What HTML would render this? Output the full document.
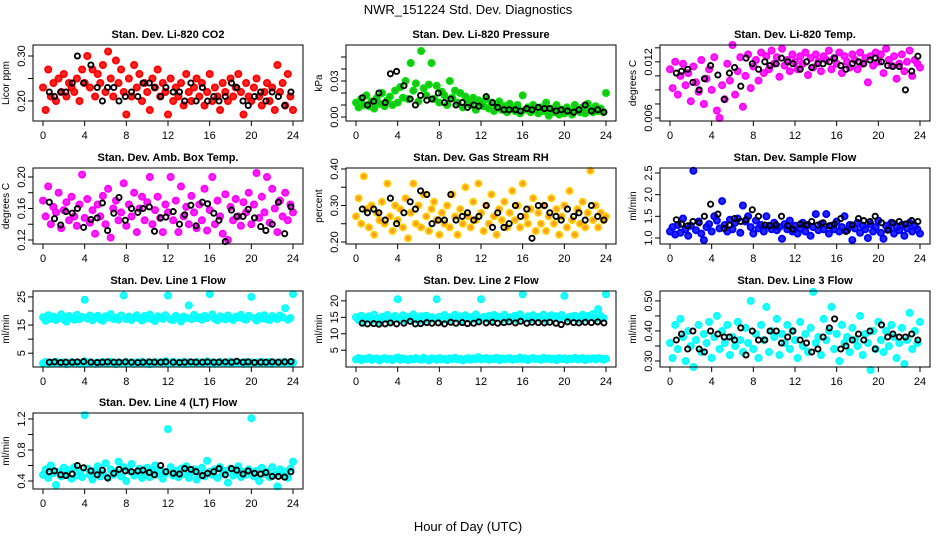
<!DOCTYPE html>
<html><head><meta charset="utf-8">
<style>
html,body{margin:0;padding:0;background:#fff;}
svg{display:block;font-family:"Liberation Sans",Arial,sans-serif;}
</style></head>
<body>
<svg id="chart" width="936" height="540" viewBox="0 0 936 540" xmlns="http://www.w3.org/2000/svg">
<rect x="0" y="0" width="936" height="540" fill="#fff"/>
<text x="468" y="14" text-anchor="middle" font-size="13">NWR_151224  Std. Dev. Diagnostics</text>
<text x="468" y="531" text-anchor="middle" font-size="13">Hour of Day (UTC)</text>
</svg>
<script>
const hours = [0,0.25,0.5,0.75,1,1.25,1.5,1.75,2,2.25,2.5,2.75,3,3.25,3.5,3.75,4,4.25,4.5,4.75,5,5.25,5.5,5.75,6,6.25,6.5,6.75,7,7.25,7.5,7.75,8,8.25,8.5,8.75,9,9.25,9.5,9.75,10,10.25,10.5,10.75,11,11.25,11.5,11.75,12,12.25,12.5,12.75,13,13.25,13.5,13.75,14,14.25,14.5,14.75,15,15.25,15.5,15.75,16,16.25,16.5,16.75,17,17.25,17.5,17.75,18,18.25,18.5,18.75,19,19.25,19.5,19.75,20,20.25,20.5,20.75,21,21.25,21.5,21.75,22,22.25,22.5,22.75,23,23.25,23.5,23.75,24];
const blackHours = [0.6,1.1,1.7,2.2,2.8,3.3,3.9,4.6,5.2,5.7,6.2,6.8,7.3,7.9,8.5,9.1,9.6,10.2,10.7,11.3,11.8,12.5,13.1,13.6,14.2,14.7,15.3,15.8,16.4,16.9,17.5,18.1,18.6,19.2,19.7,20.3,20.9,21.4,22.0,22.6,23.2,23.8];
const xTicks = [0,4,8,12,16,20,24];

const co2Values = [0.23,0.18,0.27,0.21,0.24,0.20,0.25,0.22,0.26,0.21,0.24,0.23,0.22,0.25,0.20,0.27,0.24,0.30,0.23,0.27,0.21,0.26,0.24,0.28,0.22,0.31,0.25,0.21,0.29,0.24,0.27,0.22,0.17,0.25,0.21,0.28,0.23,0.26,0.20,0.24,0.22,0.18,0.25,0.23,0.27,0.21,0.24,0.22,0.17,0.25,0.20,0.23,0.21,0.24,0.19,0.26,0.22,0.20,0.23,0.25,0.21,0.24,0.19,0.22,0.26,0.20,0.23,0.21,0.18,0.24,0.22,0.20,0.25,0.21,0.23,0.26,0.22,0.17,0.24,0.21,0.20,0.23,0.25,0.21,0.19,0.22,0.24,0.20,0.23,0.18,0.28,0.22,0.24,0.19,0.26,0.21,0.18];
const co2Black = [0.22,0.21,0.22,0.22,0.24,0.30,0.24,0.28,0.23,0.20,0.23,0.23,0.20,0.21,0.22,0.21,0.24,0.24,0.23,0.21,0.23,0.22,0.22,0.20,0.24,0.20,0.23,0.20,0.21,0.20,0.21,0.24,0.23,0.20,0.19,0.21,0.22,0.20,0.22,0.21,0.19,0.22];

const pressureValues = [0.012,0.008,0.015,0.010,0.018,0.009,0.013,0.007,0.016,0.011,0.020,0.009,0.014,0.017,0.010,0.022,0.012,0.025,0.016,0.030,0.015,0.045,0.022,0.028,0.013,0.055,0.024,0.018,0.027,0.045,0.015,0.026,0.012,0.021,0.018,0.010,0.030,0.016,0.022,0.012,0.020,0.008,0.017,0.013,0.010,0.016,0.006,0.014,0.011,0.009,0.015,0.007,0.012,0.005,0.010,0.013,0.006,0.009,0.004,0.011,0.007,0.005,0.010,0.003,0.018,0.006,0.008,0.004,0.010,0.006,0.003,0.008,0.005,0.012,0.001,0.007,0.004,0.010,0.002,0.006,0.003,0.008,0.005,0.002,0.010,0.006,0.004,0.008,0.003,0.011,0.006,0.004,0.009,0.005,0.007,0.004,0.020];
const pressureBlack = [0.016,0.010,0.013,0.020,0.012,0.036,0.038,0.026,0.015,0.010,0.018,0.014,0.015,0.020,0.012,0.015,0.010,0.012,0.008,0.010,0.009,0.017,0.012,0.008,0.006,0.006,0.006,0.005,0.007,0.006,0.008,0.007,0.007,0.005,0.006,0.005,0.004,0.006,0.010,0.005,0.006,0.004];

const tempValues = [0.0112,0.0092,0.0120,0.0085,0.0105,0.0118,0.0095,0.0108,0.0078,0.0115,0.0098,0.0088,0.0122,0.0075,0.0102,0.0112,0.0090,0.0125,0.0068,0.0060,0.0095,0.0080,0.0118,0.0100,0.0138,0.0085,0.0110,0.0125,0.0072,0.0105,0.0128,0.0092,0.0115,0.0122,0.0100,0.0130,0.0108,0.0126,0.0112,0.0132,0.0118,0.0125,0.0104,0.0134,0.0116,0.0122,0.0110,0.0128,0.0120,0.0112,0.0126,0.0118,0.0130,0.0106,0.0124,0.0114,0.0128,0.0120,0.0110,0.0126,0.0122,0.0132,0.0112,0.0124,0.0118,0.0130,0.0108,0.0126,0.0120,0.0114,0.0128,0.0122,0.0112,0.0130,0.0118,0.0124,0.0098,0.0126,0.0116,0.0130,0.0120,0.0128,0.0108,0.0134,0.0122,0.0116,0.0126,0.0102,0.0118,0.0128,0.0110,0.0120,0.0132,0.0105,0.0122,0.0118,0.0114];
const tempBlack = [0.0108,0.0110,0.0112,0.0098,0.0090,0.0102,0.0116,0.0106,0.0080,0.0108,0.0114,0.0094,0.0124,0.0118,0.0112,0.0120,0.0116,0.0118,0.0124,0.0120,0.0118,0.0112,0.0120,0.0114,0.0118,0.0118,0.0120,0.0124,0.0116,0.0112,0.0118,0.0120,0.0118,0.0122,0.0124,0.0120,0.0116,0.0115,0.0115,0.0090,0.0110,0.0126];

const ambValues = [0.170,0.150,0.188,0.140,0.162,0.155,0.180,0.135,0.158,0.168,0.145,0.175,0.150,0.138,0.165,0.203,0.148,0.172,0.142,0.158,0.128,0.165,0.150,0.176,0.140,0.185,0.123,0.160,0.170,0.145,0.155,0.192,0.138,0.165,0.150,0.180,0.130,0.160,0.175,0.145,0.168,0.200,0.140,0.158,0.175,0.148,0.130,0.165,0.155,0.200,0.145,0.170,0.130,0.188,0.150,0.162,0.140,0.176,0.155,0.135,0.165,0.145,0.185,0.132,0.158,0.200,0.140,0.170,0.150,0.128,0.178,0.120,0.162,0.145,0.172,0.150,0.138,0.168,0.155,0.180,0.140,0.165,0.205,0.148,0.175,0.155,0.200,0.142,0.185,0.160,0.130,0.170,0.150,0.180,0.145,0.165,0.155];
const ambBlack = [0.168,0.147,0.139,0.156,0.154,0.160,0.136,0.146,0.148,0.167,0.132,0.154,0.174,0.145,0.160,0.155,0.160,0.162,0.131,0.148,0.149,0.156,0.140,0.152,0.164,0.138,0.168,0.166,0.154,0.145,0.118,0.158,0.150,0.150,0.159,0.148,0.137,0.132,0.140,0.168,0.128,0.162];

const rhValues = [0.27,0.32,0.25,0.38,0.29,0.24,0.30,0.22,0.28,0.26,0.31,0.25,0.36,0.27,0.23,0.30,0.26,0.29,0.24,0.32,0.21,0.28,0.36,0.25,0.30,0.24,0.33,0.27,0.23,0.29,0.31,0.26,0.22,0.28,0.25,0.30,0.24,0.33,0.27,0.22,0.29,0.25,0.35,0.27,0.24,0.31,0.26,0.36,0.28,0.23,0.30,0.25,0.33,0.27,0.22,0.29,0.26,0.31,0.24,0.28,0.34,0.26,0.30,0.24,0.36,0.27,0.25,0.29,0.32,0.23,0.28,0.25,0.30,0.23,0.27,0.32,0.25,0.29,0.22,0.27,0.30,0.24,0.34,0.26,0.22,0.29,0.25,0.31,0.24,0.28,0.395,0.26,0.30,0.24,0.28,0.26,0.27];
const rhBlack = [0.29,0.28,0.29,0.28,0.26,0.32,0.25,0.28,0.31,0.29,0.34,0.33,0.25,0.26,0.26,0.33,0.26,0.27,0.28,0.26,0.27,0.30,0.24,0.28,0.24,0.25,0.30,0.27,0.29,0.21,0.30,0.30,0.28,0.27,0.26,0.29,0.27,0.28,0.26,0.30,0.27,0.26];

const sampleValues = [1.15,1.25,1.08,1.30,1.12,1.45,1.20,1.05,1.28,2.55,1.18,1.38,1.10,0.95,1.25,1.32,1.15,1.50,1.40,1.22,1.85,1.30,1.15,1.42,1.20,1.35,1.45,1.12,1.75,1.38,1.50,1.25,1.10,1.40,1.22,1.30,1.15,1.50,1.28,1.20,1.35,1.18,1.25,0.98,1.32,1.20,1.40,1.15,1.28,1.10,1.22,1.35,1.15,1.30,1.05,1.25,1.55,1.18,1.32,1.20,1.55,1.10,1.28,1.20,1.38,1.15,1.25,1.50,1.18,1.30,0.95,1.22,1.35,1.12,1.28,1.20,1.00,1.32,1.15,1.25,1.40,1.12,0.98,1.28,1.20,1.35,1.10,1.25,1.18,1.30,1.05,1.22,1.35,1.15,1.28,1.20,1.10];
const sampleBlack = [1.42,1.32,1.28,1.38,1.35,1.50,1.78,1.55,1.22,1.30,1.45,1.38,1.42,1.65,1.50,1.30,1.28,1.30,1.50,1.28,1.20,1.32,1.30,1.38,1.30,1.35,1.28,1.32,1.45,1.15,1.30,1.45,1.40,1.38,1.50,1.35,1.18,1.35,1.38,1.32,1.40,1.38];

const line1Upper = [17.8,16.5,18.5,17.2,18.0,16.8,17.5,18.8,17.0,16.2,18.2,17.4,16.9,18.6,17.1,17.9,24.0,17.3,18.4,16.7,17.6,18.3,17.0,16.5,18.1,17.7,18.9,17.2,17.5,16.9,18.4,25.5,17.1,18.0,16.8,17.6,18.5,17.3,16.6,18.2,17.4,18.7,17.0,16.4,18.1,17.8,17.2,18.5,25.5,17.0,16.8,18.3,17.5,16.3,18.0,17.6,22.0,17.1,18.6,17.4,17.8,16.9,18.2,17.5,26.0,18.8,17.2,16.7,18.1,17.6,17.0,18.4,17.3,16.8,18.0,17.7,18.6,17.2,16.9,18.3,25.0,17.5,16.6,18.1,17.3,18.5,17.0,16.8,18.2,17.6,17.1,18.4,17.8,21.0,16.9,17.5,26.0];
const line1Lower = [1.4,1.9,1.2,1.7,1.5,2.0,1.3,1.6,1.8,1.1,1.5,1.9,1.4,1.7,1.2,1.6,2.1,1.3,1.8,1.5,1.2,1.7,1.4,1.9,1.6,1.3,2.0,1.5,1.1,1.8,1.6,1.3,1.9,1.4,1.7,1.2,1.8,1.5,2.0,1.4,1.7,1.1,1.6,1.9,1.3,1.8,1.5,2.2,1.4,1.6,1.9,1.3,1.7,1.5,2.0,1.2,1.8,1.4,1.6,1.9,1.3,1.7,1.5,2.1,1.4,1.8,1.2,1.6,1.9,1.5,1.7,1.3,2.0,1.5,1.8,1.4,1.6,1.2,1.9,1.5,1.8,1.3,1.7,1.5,2.0,1.4,1.6,1.9,1.2,1.7,1.5,1.8,1.4,1.9,1.6,1.3,1.7];
const line1Black = [1.8,1.9,1.7,1.8,1.8,1.9,2.0,1.8,1.7,1.8,1.9,1.8,1.8,1.9,1.8,1.7,1.8,1.9,1.8,1.8,1.9,1.8,1.7,1.8,1.9,1.8,1.8,1.9,1.8,1.8,1.9,1.8,2.1,1.8,1.9,1.7,1.8,1.8,1.9,1.8,1.9,2.0];

const line2Upper = [15.0,14.2,15.5,13.8,14.8,15.3,14.0,15.8,14.5,13.6,15.2,14.6,15.7,14.1,14.9,15.4,20.5,14.3,15.6,14.0,15.1,14.7,15.9,14.4,13.9,15.3,14.8,15.5,14.2,15.0,14.6,20.5,15.2,14.0,15.7,14.5,15.0,14.3,15.8,14.7,15.3,14.1,15.6,14.8,15.0,14.4,15.9,14.2,20.5,15.1,14.6,15.4,14.0,15.7,14.9,15.2,14.3,15.8,14.5,15.0,14.8,15.5,14.2,15.9,22.0,14.7,15.3,14.4,15.6,14.9,15.1,14.5,15.8,14.2,15.0,15.6,14.8,15.3,14.4,15.7,21.5,14.6,15.2,14.9,15.5,14.3,15.1,15.8,14.7,15.4,15.0,16.0,14.6,17.5,15.3,14.8,22.0];
const line2Lower = [2.2,2.6,2.0,2.4,2.3,2.7,2.1,2.4,2.5,1.9,2.3,2.6,2.2,2.4,2.0,2.5,2.8,2.1,2.5,2.3,2.0,2.4,2.2,2.6,2.3,2.1,2.7,2.3,1.9,2.5,2.4,2.1,2.6,2.2,2.4,2.0,2.5,2.3,2.7,2.2,2.4,1.9,2.3,2.6,2.1,2.5,2.3,2.9,2.2,2.4,2.6,2.1,2.4,2.3,2.7,2.0,2.5,2.2,2.4,2.6,2.1,2.4,2.3,2.8,2.2,2.5,2.0,2.4,2.6,2.3,2.4,2.1,2.7,2.3,2.5,2.2,2.4,2.0,2.6,2.3,2.5,2.1,2.4,2.3,2.7,2.2,2.4,2.6,2.0,2.4,2.3,2.5,2.2,2.6,2.4,2.1,2.4];
const line2Black = [13.2,13.0,13.1,12.9,13.0,13.3,13.0,13.2,13.8,13.0,13.1,13.4,13.2,13.3,13.0,13.5,13.2,13.4,13.1,13.2,13.6,13.3,13.5,13.2,13.4,13.6,13.3,13.8,13.2,13.5,13.4,13.3,13.5,13.2,12.8,13.6,13.4,13.3,13.5,13.4,13.6,13.3];

const line3Values = [0.36,0.31,0.42,0.34,0.44,0.38,0.30,0.40,0.35,0.28,0.37,0.42,0.33,0.39,0.36,0.43,0.31,0.38,0.45,0.34,0.40,0.36,0.42,0.32,0.38,0.35,0.43,0.37,0.33,0.41,0.36,0.50,0.34,0.39,0.31,0.42,0.37,0.48,0.33,0.40,0.38,0.44,0.32,0.39,0.36,0.42,0.34,0.40,0.37,0.31,0.43,0.35,0.39,0.33,0.41,0.53,0.36,0.38,0.32,0.44,0.37,0.40,0.48,0.34,0.39,0.30,0.42,0.36,0.38,0.33,0.41,0.37,0.35,0.45,0.32,0.39,0.36,0.27,0.40,0.34,0.43,0.37,0.33,0.40,0.35,0.42,0.38,0.31,0.36,0.41,0.29,0.37,0.46,0.34,0.40,0.36,0.43];
const line3Black = [0.37,0.39,0.34,0.40,0.34,0.33,0.40,0.39,0.38,0.38,0.37,0.41,0.32,0.40,0.37,0.37,0.40,0.40,0.36,0.38,0.40,0.37,0.36,0.33,0.34,0.38,0.41,0.44,0.34,0.35,0.37,0.39,0.37,0.40,0.34,0.42,0.38,0.39,0.38,0.38,0.39,0.37];

const line4Values = [0.48,0.55,0.44,0.60,0.50,0.35,0.52,0.46,0.57,0.49,0.54,0.43,0.58,0.47,0.52,0.45,1.25,0.56,0.48,0.42,0.53,0.59,0.46,0.50,0.63,0.44,0.55,0.48,0.52,0.65,0.46,0.58,0.40,0.53,0.62,0.47,0.51,0.56,0.44,0.49,0.57,0.45,0.52,0.60,0.48,0.54,0.43,0.50,1.07,0.58,0.47,0.53,0.45,0.56,0.49,0.59,0.44,0.51,0.55,0.42,0.50,0.57,0.46,0.66,0.52,0.48,0.55,0.44,0.58,0.49,0.53,0.38,0.56,0.47,0.51,0.59,0.45,0.52,0.48,0.55,1.21,0.46,0.53,0.40,0.57,0.49,0.52,0.45,0.58,0.48,0.33,0.55,0.47,0.52,0.44,0.56,0.65];
const line4Black = [0.52,0.53,0.48,0.47,0.49,0.60,0.57,0.53,0.48,0.54,0.44,0.50,0.55,0.53,0.52,0.53,0.54,0.51,0.48,0.60,0.52,0.50,0.49,0.56,0.55,0.52,0.47,0.50,0.52,0.56,0.48,0.56,0.54,0.49,0.53,0.50,0.49,0.51,0.46,0.46,0.45,0.52];

const co2Ticks = [0.20,0.25,0.30], co2Labels = ["0.20","","0.30"];
const pressureTicks = [0,0.01,0.02,0.03,0.04,0.05], pressureLabels = ["0.00","","","0.03","",""];
const tempTicks = [0.006,0.0075,0.009,0.0105,0.012,0.0135], tempLabels = ["0.006","","","","0.012",""];
const ambTicks = [0.12,0.14,0.16,0.18,0.20], ambLabels = ["0.12","","0.16","","0.20"];
const rhTicks = [0.20,0.25,0.30,0.35,0.40], rhLabels = ["0.20","","0.30","","0.40"];
const sampleTicks = [1.0,1.5,2.0,2.5], sampleLabels = ["1.0","1.5","2.0","2.5"];
const line1Ticks = [5,10,15,20,25], line1Labels = ["5","","15","","25"];
const line2Ticks = [5,10,15,20], line2Labels = ["5","10","15","20"];
const line3Ticks = [0.30,0.35,0.40,0.45,0.50], line3Labels = ["0.30","","0.40","","0.50"];
const line4Ticks = [0.4,0.6,0.8,1.0,1.2], line4Labels = ["0.4","","0.8","","1.2"];

const panels = [
 {name:"co2",title:"Stan. Dev. Li-820 CO2",ylab:"Licor ppm",col:0,row:0,lo:0.1556,hi:0.3244,color:"#ff0000",fill:"#ff0000",series:[co2Values],black:co2Black,ticks:co2Ticks,labels:co2Labels},
 {name:"pressure",title:"Stan. Dev. Li-820 Pressure",ylab:"kPa",col:1,row:0,lo:-0.0033,hi:0.060,color:"#00e000",fill:"#00b000",series:[pressureValues],black:pressureBlack,ticks:pressureTicks,labels:pressureLabels},
 {name:"temp",title:"Stan. Dev. Li-820 Temp.",ylab:"degrees C",col:2,row:0,lo:0.00568,hi:0.0138,color:"#ff00ff",fill:"#ff00ff",series:[tempValues],black:tempBlack,ticks:tempTicks,labels:tempLabels},
 {name:"amb-box-temp",title:"Stan. Dev. Amb. Box Temp.",ylab:"degrees C",col:0,row:1,lo:0.1149,hi:0.2114,color:"#ff00ff",fill:"#ff00ff",series:[ambValues],black:ambBlack,ticks:ambTicks,labels:ambLabels},
 {name:"gas-rh",title:"Stan. Dev. Gas Stream RH",ylab:"percent",col:1,row:1,lo:0.1945,hi:0.4027,color:"#ffd000",fill:"#ff8800",series:[rhValues],black:rhBlack,ticks:rhTicks,labels:rhLabels},
 {name:"sample-flow",title:"Stan. Dev. Sample Flow",ylab:"ml/min",col:2,row:1,lo:0.861,hi:2.615,color:"#0000ff",fill:"#0000ff",series:[sampleValues],black:sampleBlack,ticks:sampleTicks,labels:sampleLabels},
 {name:"line1-flow",title:"Stan. Dev. Line 1 Flow",ylab:"ml/min",col:0,row:2,lo:0.09,hi:27.1,color:"#00ffff",fill:"#00ffff",series:[line1Upper,line1Lower],black:line1Black,ticks:line1Ticks,labels:line1Labels},
 {name:"line2-flow",title:"Stan. Dev. Line 2 Flow",ylab:"ml/min",col:1,row:2,lo:-0.1,hi:23,color:"#00ffff",fill:"#00ffff",series:[line2Upper,line2Lower],black:line2Black,ticks:line2Ticks,labels:line2Labels},
 {name:"line3-flow",title:"Stan. Dev. Line 3 Flow",ylab:"ml/min",col:2,row:2,lo:0.280,hi:0.533,color:"#00ffff",fill:"#00ffff",series:[line3Values],black:line3Black,ticks:line3Ticks,labels:line3Labels},
 {name:"line4-flow",title:"Stan. Dev. Line 4 (LT) Flow",ylab:"ml/min",col:0,row:3,lo:0.297,hi:1.277,color:"#00ffff",fill:"#00ffff",series:[line4Values],black:line4Black,ticks:line4Ticks,labels:line4Labels}
];

const svg = document.getElementById('chart');
const NS = "http://www.w3.org/2000/svg";
function mk(tag, attrs, parent){
  const e = document.createElementNS(NS, tag);
  for (const k in attrs) e.setAttribute(k, attrs[k]);
  parent.appendChild(e);
  return e;
}
const colLeft = [33, 346, 660];
const rowTop = [45, 168, 291, 413];
const boxW = 270, boxH = 76;

panels.forEach(p => {
  const L = colLeft[p.col], T = rowTop[p.row], R = L + boxW, B = T + boxH;
  const xs = h => L + (h + 0.96) / 25.92 * boxW;
  const ys = v => B - (v - p.lo) / (p.hi - p.lo) * boxH;
  const g = mk('g', {}, svg);
  
  

  const t = mk('text', {x:(L+R)/2, y:T-7, 'text-anchor':'middle','font-size':'11','font-weight':'bold'}, g);
  
  
  t.textContent = p.title;

  const clip = mk('g', {}, g);
  
  
  p.series.forEach(vals => {
    const n = Math.min(vals.length, hours.length);
    for (let i = 0; i < n; i++) {
      const c = mk('circle', {cx:xs(hours[i]).toFixed(1), cy:ys(vals[i]).toFixed(1), r:'3.1', fill:p.fill, 'fill-opacity':'0.85', stroke:p.color, 'stroke-width':'1.8'}, clip);
      
      
    }
  });
  const nb = Math.min(p.black.length, blackHours.length);
  for (let i = 0; i < nb; i++) {
    const c = mk('circle', {cx:xs(blackHours[i]).toFixed(1), cy:ys(p.black[i]).toFixed(1), r:'2.6', fill:'none', stroke:'#000', 'stroke-width':'1.9'}, clip);
    
    
  }

  const box = mk('rect', {x:L, y:T, width:boxW, height:boxH, fill:'none', stroke:'#000', 'stroke-width':'1'}, g);
  
  

  const xa = mk('g', {}, g);
  
  
  xTicks.forEach(h => {
    mk('line', {x1:xs(h), x2:xs(h), y1:B, y2:B+5, stroke:'#000'}, xa);
    const tl = mk('text', {x:xs(h), y:B+18, 'text-anchor':'middle','font-size':'11'}, xa);
    
    
    tl.textContent = h;
  });

  const ya = mk('g', {}, g);
  
  
  p.ticks.forEach((v, i) => {
    const y = ys(v);
    mk('line', {x1:L-5, x2:L, y1:y, y2:y, stroke:'#000'}, ya);
    if (p.labels[i]) {
      const tl = mk('text', {x:L-8, y:y, 'text-anchor':'middle','font-size':'11', transform:`rotate(-90 ${L-8} ${y})`}, ya);
      
      
      tl.textContent = p.labels[i];
    }
  });
  const yl = mk('text', {x:L-24, y:(T+B)/2, 'text-anchor':'middle','font-size':'10', transform:`rotate(-90 ${L-24} ${(T+B)/2})`}, g);
  
  
  yl.textContent = p.ylab;
});
</script>
</body></html>
